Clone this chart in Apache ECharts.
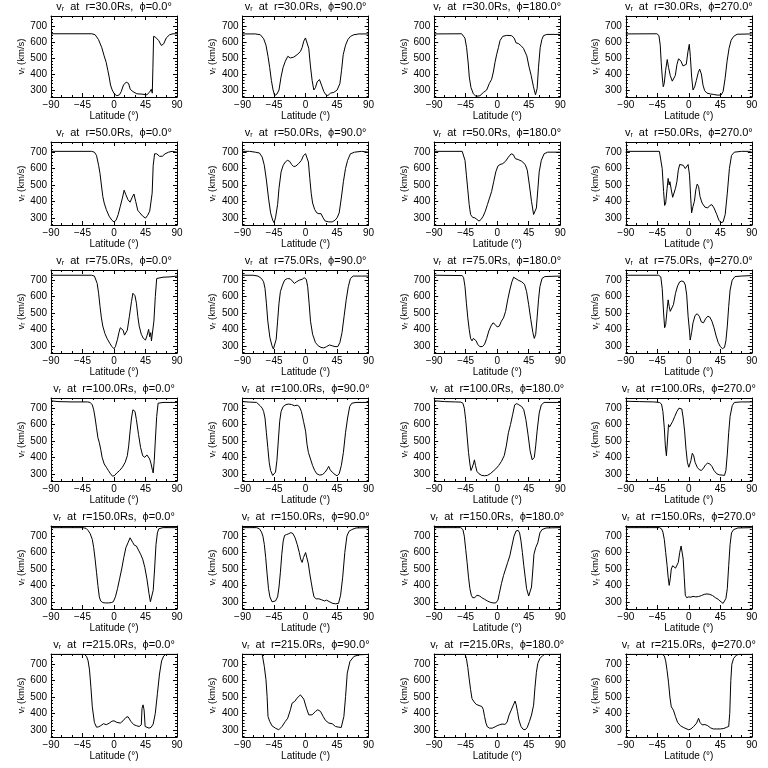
<!DOCTYPE html>
<html><head><meta charset="utf-8">
<script src="https://cdn.jsdelivr.net/npm/echarts@6/dist/echarts.min.js"></script>
<style>html,body{margin:0;padding:0;background:#fff}#c{width:768px;height:768px}</style>
</head><body><div id="c"></div>
<script>
// ---------- data (latitude [deg], v_r [km/s]) ----------
const radii = ['30.0', '50.0', '75.0', '100.0', '150.0', '215.0'];
const phis = ['0.0', '90.0', '180.0', '270.0'];
const xTicks = [-90, -45, 0, 45, 90];
const yTicks = [300, 400, 500, 600, 700];
const yMinorTicks = [260,280,300,320,340,360,380,400,420,440,460,480,500,520,540,560,580,600,620,640,660,680,700,720,740,760];

const r30_p0 = [[-90,651],[-31.7,651],[-27,645],[-22.2,615],[-17.4,564],[-14.1,513],[-11.2,473],[-8.8,422],[-6.9,381],[-5,331],[-2.6,300],[0.3,276],[4.1,264],[7.9,270],[10.3,290],[13.6,331],[17.4,349],[19.8,355],[20.8,341],[23.2,304],[27,290],[32.7,276],[39.9,274],[47,270],[50.4,284],[53.3,304],[54.7,280],[55.6,442],[56.6,635],[59.5,629],[63.8,609],[67.6,578],[71,588],[74.7,625],[79.5,645],[84.3,651],[90,651]];
const r30_p90 = [[-90,650],[-71.9,650],[-64.7,645],[-59.9,620],[-56.6,580],[-53.7,510],[-51.3,440],[-48.9,360],[-46.5,300],[-44.2,265],[-40.8,275],[-38,300],[-35.1,380],[-32.2,440],[-28.9,480],[-25.5,510],[-21.7,500],[-17,505],[-12.2,520],[-7.4,540],[-5,565],[-2.6,605],[-0.2,625],[2.2,615],[4.5,560],[6.9,450],[9.3,360],[11.7,300],[14.1,315],[16.5,350],[19.8,365],[21.7,370],[23.6,320],[26,290],[28.9,270],[31.8,265],[35.6,280],[40.4,285],[45.1,300],[49,340],[51.3,420],[53.7,520],[57.1,580],[60.4,615],[64.2,635],[69,645],[76.2,650],[90,650]];
const r30_p180 = [[-90,650],[-50.8,651],[-46.1,624],[-43.7,564],[-41.3,462],[-39.9,381],[-37.5,316],[-34.1,276],[-30.3,260],[-24.6,264],[-19.8,284],[-15,300],[-11.2,341],[-7.9,367],[-5.5,412],[-3.1,473],[-0.7,523],[1.7,564],[4.1,609],[7.9,635],[13.6,641],[20.8,639],[24.1,625],[27,594],[30.3,590],[33.7,578],[37.5,560],[42.3,513],[45.6,442],[48.5,391],[51.8,320],[54.7,270],[57.1,310],[59,442],[61.4,564],[63.8,615],[66.1,639],[70.9,647],[90,647]];
const r30_p270 = [[-90,650],[-45.6,651],[-42.7,640],[-40.8,580],[-39.4,470],[-37.9,380],[-36.5,320],[-35.1,340],[-33.2,420],[-30.8,490],[-28.9,440],[-26.5,390],[-23.6,355],[-21.7,345],[-19.3,390],[-16.9,460],[-14.6,495],[-11.2,480],[-8.3,450],[-6,440],[-3.6,460],[-1.2,540],[0.7,585],[2.2,510],[4.1,380],[6,300],[8.4,320],[10.8,360],[13.6,410],[15.5,430],[17.9,400],[20.3,330],[22.7,295],[26,280],[30.8,275],[35.6,272],[40.4,268],[46.1,268],[49,290],[51.8,370],[54.7,480],[57.5,560],[60.4,610],[64.2,635],[69,648],[90,650]];

const r50_p0 = [[-90,705],[-32,705],[-28,700],[-25,680],[-22,620],[-20,570],[-18,500],[-16,430],[-14,390],[-11,350],[-7,310],[-3,285],[0,275],[3,285],[6,320],[9,370],[12,420],[14.5,468],[17,440],[20,410],[23,395],[26,425],[28.5,445],[31,400],[34,345],[37,330],[41,310],[45,298],[48,315],[51,340],[53,330],[54.5,450],[56,620],[58,690],[61,690],[65,675],[69,675],[73,690],[78,700],[83,705],[90,700]];
const r50_p90 = [[-90,705],[-80,705],[-72,700],[-66,695],[-62,670],[-59,620],[-56,530],[-53,420],[-50,330],[-47,285],[-45,270],[-43,300],[-40,380],[-38,480],[-35,580],[-32,620],[-29,640],[-26,650],[-23,645],[-20,625],[-17,612],[-14,615],[-10,630],[-6,650],[-3,680],[0,690],[2.5,685],[4,640],[6,540],[8,450],[10,390],[13,350],[16,330],[19,325],[22,325],[25,300],[28,280],[33,275],[38,275],[42,285],[45,300],[48,330],[51,420],[54,520],[57,600],[60,650],[64,690],[70,700],[80,705],[90,700]];
const r50_p180 = [[-90,705],[-50,705],[-48,695],[-46,650],[-44,560],[-42,470],[-40,380],[-38,320],[-35,302],[-32,300],[-29,290],[-26,280],[-23,290],[-20,310],[-17,340],[-14,380],[-11,420],[-8,460],[-5,520],[-2,580],[1,615],[4,625],[8,630],[12,645],[16,670],[20,690],[23,685],[26,660],[30,655],[35,645],[40,625],[43,590],[46,500],[49,400],[52,320],[54,310],[56,360],[58,470],[60,580],[63,650],[67,690],[72,700],[90,700]];
const r50_p270 = [[-90,705],[-42,705],[-40,695],[-38,600],[-36,460],[-34.5,375],[-33,390],[-31,480],[-29.5,540],[-28,500],[-27,520],[-25,470],[-23,425],[-21,430],[-19,480],[-17,520],[-15,590],[-13,625],[-11,630],[-8,620],[-5,600],[-3,610],[-1,625],[1,560],[2.5,440],[4,330],[6,370],[8,400],[10,470],[12,505],[14,490],[16,430],[19,390],[23,365],[27,360],[30,375],[33,380],[36,360],[40,320],[43,285],[46,270],[49,275],[52,320],[55,450],[58,600],[61,680],[65,700],[75,705],[85,705],[90,700]];

const r75_p0 = [[-90,730],[-32,730],[-28,725],[-26,715],[-24,680],[-22,620],[-20,540],[-18,470],[-16,420],[-13,375],[-10,345],[-6,315],[-3,295],[0,282],[2,295],[5,340],[7,380],[9,410],[11,415],[13,395],[15,365],[17,360],[19,395],[22,480],[25,570],[27,620],[28.5,625],[30,605],[32,560],[34,480],[36,420],[39,370],[42,345],[45,335],[47,360],[49.5,400],[51,355],[52.5,380],[53.5,330],[55,340],[57,450],[59,600],[61,710],[63,720],[70,718],[80,720],[90,725]];
const r75_p90 = [[-90,730],[-75,730],[-68,725],[-63,710],[-60,690],[-58,650],[-56,560],[-54,450],[-51,350],[-48,300],[-46,280],[-44,290],[-42,340],[-40,450],[-38,560],[-36,630],[-33,670],[-30,700],[-26,710],[-22,708],[-19,695],[-16,680],[-13,690],[-9,700],[-5,705],[-2,715],[1,705],[3,660],[5,560],[7,450],[10,370],[14,320],[18,300],[22,290],[26,287],[30,295],[34,305],[38,300],[42,295],[46,295],[49,320],[52,380],[55,480],[58,580],[61,660],[64,710],[68,725],[80,725],[90,725]];
const r75_p180 = [[-90,730],[-50,728],[-48,715],[-46,660],[-44,560],[-42,470],[-40,400],[-38,345],[-36,330],[-34,345],[-32,355],[-30,330],[-28,310],[-25,295],[-21,295],[-18,310],[-15,345],[-12,390],[-9,420],[-6,440],[-3,430],[0,415],[3,420],[6,450],[9,470],[12,510],[15,580],[18,640],[21,690],[23.5,718],[26,710],[30,700],[35,690],[39,675],[42,630],[45,550],[48,460],[51,380],[53,345],[55,370],[57,470],[59,580],[61,660],[64,710],[68,722],[90,725]];
const r75_p270 = [[-90,730],[-43,730],[-40,720],[-38,650],[-36,500],[-34.5,410],[-33,430],[-31,520],[-29.5,580],[-28,540],[-26.5,510],[-25,520],[-22,550],[-19,620],[-16,665],[-13,690],[-10,695],[-7,690],[-5,670],[-3,610],[-1,480],[1,390],[2,335],[4,380],[6,440],[9,485],[12,495],[15,480],[18,445],[21,440],[24,465],[27,480],[30,475],[33,450],[36,410],[39,360],[42,320],[45,295],[48,283],[51,290],[53,330],[55,420],[57,540],[59,640],[62,700],[66,722],[75,725],[90,728]];

const r100_p0 = [[-90,745],[-80,740],[-60,738],[-38,738],[-34,735],[-31,720],[-29,690],[-27,640],[-25,580],[-23,520],[-21,490],[-19,450],[-17,400],[-14,360],[-11,340],[-8,320],[-5,300],[-2,285],[1,290],[4,305],[8,320],[12,340],[16,370],[19,410],[21,470],[23,560],[25,640],[27,690],[28.5,692],[30,680],[32,630],[35,540],[38,460],[41,410],[44,400],[47,415],[49.5,425],[51,390],[53,360],[55,320],[56,305],[57.5,380],[59,500],[61,650],[63,730],[70,735],[90,735]];
const r100_p90 = [[-90,740],[-80,737],[-70,735],[-65,715],[-62,700],[-60,680],[-58,640],[-56,550],[-54,460],[-52,370],[-50,320],[-47,290],[-45,285],[-43,310],[-41,380],[-39,500],[-37,620],[-35,680],[-32,710],[-28,722],[-24,725],[-20,722],[-16,715],[-12,718],[-9,710],[-6,680],[-3,620],[0,560],[2,480],[4,430],[7,390],[10,350],[13,320],[16,300],[20,292],[24,295],[28,310],[31,330],[33,345],[35,325],[38,310],[42,295],[45,288],[48,300],[51,350],[54,430],[57,550],[60,640],[63,710],[66,730],[72,735],[90,735]];
const r100_p180 = [[-90,745],[-75,740],[-60,738],[-52,737],[-49,730],[-47,700],[-45,630],[-43,530],[-41,430],[-39,360],[-37.5,320],[-36,335],[-34,360],[-32.5,385],[-31,350],[-29,315],[-26,300],[-22,290],[-18,288],[-14,290],[-10,300],[-6,315],[-2,330],[2,350],[6,375],[10,410],[13,470],[16,550],[19,600],[22,660],[25,720],[28,728],[31,720],[35,710],[38,690],[41,630],[44,540],[47,440],[50,385],[51.5,375],[53,400],[55,470],[57,560],[60,670],[63,720],[67,735],[90,735]];
const r100_p270 = [[-90,742],[-70,740],[-50,738],[-42,735],[-39,725],[-37,680],[-35,580],[-33.5,470],[-32,410],[-30.5,500],[-29,600],[-27.5,585],[-26,590],[-23,620],[-20,650],[-17,680],[-14,700],[-12,705],[-10,695],[-8,640],[-6,560],[-4,450],[-2,370],[0,340],[1.5,335],[3,380],[5,425],[7,410],[9,370],[12,340],[15,325],[18,320],[21,335],[24,355],[27,365],[30,360],[33,345],[36,320],[40,300],[44,293],[48,292],[51,290],[53,320],[55,420],[57,550],[59,650],[62,715],[65,735],[75,738],[90,738]];

const r150_p0 = [[-90,752],[-45,752],[-40,748],[-37,735],[-34,715],[-31,680],[-29,630],[-27,560],[-25,480],[-23,400],[-21,330],[-19,305],[-16,295],[-12,293],[-8,293],[-4,295],[-1,300],[2,330],[5,380],[8,440],[11,500],[14,570],[17,630],[20,660],[23,690],[25,680],[27,660],[29,645],[32,640],[35,615],[38,590],[41,560],[44,510],[47,440],[50,350],[52,300],[54,305],[56,370],[58,500],[60,650],[62,720],[64,745],[70,752],[90,752]];
const r150_p90 = [[-90,752],[-70,752],[-66,745],[-63,725],[-61,700],[-59,650],[-57,570],[-55,470],[-53,380],[-51,330],[-48,300],[-46,290],[-43,305],[-40,330],[-38,390],[-36,480],[-34,590],[-32,670],[-30,705],[-27,710],[-24,715],[-21,722],[-18,715],[-15,690],[-12,650],[-9,600],[-7,560],[-5,540],[-3,570],[0,600],[2,590],[4,530],[6,470],[8,420],[10,370],[12,330],[15,318],[19,318],[23,312],[27,305],[30,310],[32,305],[35,298],[39,290],[43,288],[47,290],[50,340],[53,450],[56,600],[59,700],[62,730],[66,740],[72,750],[90,752]];
const r150_p180 = [[-90,752],[-52,752],[-49,740],[-47,700],[-45,620],[-43,540],[-41,450],[-39,380],[-37,340],[-35,325],[-32,325],[-29,340],[-27,345],[-25,335],[-22,325],[-18,315],[-14,305],[-10,297],[-6,293],[-2,293],[1,310],[3,350],[6,410],[9,460],[12,500],[15,540],[18,580],[21,640],[24,700],[27,732],[30,735],[32,720],[34,670],[36,600],[38,520],[40,450],[42,380],[45,335],[47,340],[49,390],[51,500],[52.5,590],[55,630],[58,660],[61,720],[64,740],[70,750],[90,752]];
const r150_p270 = [[-90,752],[-42,752],[-39,745],[-37,725],[-35,680],[-33,600],[-31,520],[-29.5,450],[-28,400],[-26.5,440],[-25,500],[-23,520],[-21,515],[-19,505],[-17,500],[-15,540],[-13,600],[-11,640],[-9.5,630],[-8,560],[-6.5,450],[-5,340],[-3,325],[0,330],[3,328],[6,333],[10,330],[14,332],[18,338],[22,345],[26,348],[30,345],[34,338],[38,325],[42,315],[46,300],[49,290],[51,295],[53,320],[55,380],[57,520],[59,650],[61,720],[64,740],[70,750],[90,752]];

const r215_p0 = [[-90,760],[-42,760],[-39,745],[-37,720],[-35,665],[-33,560],[-31,440],[-28,345],[-25,316],[-22,318],[-19,325],[-15,337],[-11,331],[-7,340],[-3,352],[0,355],[4,345],[9,341],[13,355],[17,375],[20,380],[24,352],[28,332],[32,325],[36,320],[39,330],[40,430],[41.5,452],[43,420],[44.5,320],[47,312],[50,310],[53,315],[56,335],[59,400],[62,520],[65,640],[68,720],[71,750],[74,760],[90,760]];
const r215_p90 = [[-90,760],[-62,760],[-59,686],[-56.6,605],[-55,503],[-53.7,381],[-51.3,351],[-47.9,324],[-43.2,310],[-38.4,300],[-33.7,320],[-28.9,351],[-25.5,371],[-21.7,422],[-19.3,462],[-15.5,473],[-12.2,493],[-7.4,513],[-6,519],[-2.6,487],[1.2,432],[4.5,391],[9.3,391],[14.1,412],[17.4,422],[21.3,412],[25.1,381],[28.4,357],[33.2,341],[38,337],[42.7,320],[47.5,316],[50.9,314],[54.7,381],[57.1,503],[59.5,645],[63.3,716],[69,747],[76.2,757],[90,760]];
const r215_p180 = [[-90,760],[-46,760],[-44,735],[-42,680],[-40,610],[-38,545],[-36,490],[-33,470],[-30,455],[-26,448],[-22,442],[-20,425],[-18,380],[-16,340],[-14,318],[-11,310],[-7,310],[-3,318],[0,325],[3,330],[7,335],[11,333],[14,345],[17,390],[20,420],[23,450],[25.5,475],[27,455],[29,410],[31,360],[34,320],[37,303],[40,300],[43,315],[46,350],[49,390],[52,450],[54,560],[56,650],[58,705],[61,735],[65,752],[68,760],[90,760]];
const r215_p270 = [[-90,760],[-38,760],[-35,750],[-33,720],[-31,660],[-29,590],[-27,500],[-25,440],[-22,420],[-19,380],[-16,345],[-12,325],[-8,315],[-4,307],[0,300],[3,305],[7,320],[11,340],[14,370],[16,345],[19,330],[23,332],[27,325],[31,312],[35,305],[40,305],[45,305],[50,308],[54,315],[57,320],[58.5,400],[60,600],[61.5,700],[64,735],[68,755],[72,760],[90,760]];

const panels = [
  [r30_p0, r30_p90, r30_p180, r30_p270],
  [r50_p0, r50_p90, r50_p180, r50_p270],
  [r75_p0, r75_p90, r75_p180, r75_p270],
  [r100_p0, r100_p90, r100_p180, r100_p270],
  [r150_p0, r150_p90, r150_p180, r150_p270],
  [r215_p0, r215_p90, r215_p180, r215_p270]
];

// ---------- layout ----------
const FONT = 'Liberation Sans';
const YMIN = 256, YMAX = 762;
const grids = [], xAxes = [], yAxes = [], series = [];
const blk = '#000';
const minus = v => String(v).replace('-', '\u2212');

panels.forEach((row, ri) => row.forEach((data, ci) => {
  const gi = grids.length;
  grids.push({left: 51 + ci * 191.6, top: 14 + ri * 128, width: 126, height: 83, containLabel: false});
  const xb = xAxes.length;
  const common = {gridIndex: gi, type: 'value', min: -90, max: 90, interval: 45,
    splitLine: {show: false},
    axisLine: {show: true, onZero: false, lineStyle: {color: blk, width: 1}},
    axisTick: {show: true, inside: true, length: 4, lineStyle: {color: blk, width: 1}},
    minorTick: {show: true, splitNumber: 3, length: 2, lineStyle: {color: blk, width: 1}}};
  xAxes.push(Object.assign({}, common, {position: 'bottom',
    axisLabel: {show: true, color: blk, fontSize: 10, fontFamily: FONT, margin: 3, formatter: minus},
    name: 'Latitude (\u00b0)', nameLocation: 'middle', nameGap: 14,
    nameTextStyle: {color: blk, fontSize: 10, fontFamily: FONT}}));
  xAxes.push(Object.assign({}, common, {position: 'top', axisLabel: {show: false},
    name: 'v{s|r}  at  r=' + radii[ri] + 'Rs,  \u03d5=' + phis[ci] + '\u00b0',
    nameLocation: 'middle', nameGap: 3,
    nameTextStyle: {color: blk, fontSize: 11, fontFamily: FONT, lineHeight: 12,
      rich: {s: {fontSize: 7, fontFamily: FONT, color: blk, lineHeight: 7, verticalAlign: 'bottom'}}}}));
  const yb = yAxes.length;
  const ycommon = {gridIndex: gi, type: 'value', min: YMIN, max: YMAX, splitLine: {show: false}};
  yAxes.push(Object.assign({}, ycommon, {position: 'left',
    axisLine: {show: true, onZero: false, lineStyle: {color: blk, width: 1}},
    axisTick: {show: true, inside: true, length: 4, customValues: yTicks, lineStyle: {color: blk}},
    axisLabel: {show: true, customValues: yTicks, color: blk, fontSize: 10, fontFamily: FONT, margin: 4},
    name: 'v{s|r} (km/s)', nameLocation: 'middle', nameGap: 20,
    nameTextStyle: {color: blk, fontSize: 9.5, fontFamily: FONT, lineHeight: 11,
      rich: {s: {fontSize: 6.5, fontFamily: FONT, color: blk, lineHeight: 6, verticalAlign: 'bottom'}}}}));
  yAxes.push(Object.assign({}, ycommon, {position: 'left', axisLine: {show: false, onZero: false}, axisLabel: {show: false},
    axisTick: {show: true, inside: true, length: 2, customValues: yMinorTicks, lineStyle: {color: blk}}}));
  yAxes.push(Object.assign({}, ycommon, {position: 'right',
    axisLine: {show: true, onZero: false, lineStyle: {color: blk, width: 1}}, axisLabel: {show: false},
    axisTick: {show: true, inside: true, length: 4, customValues: yTicks, lineStyle: {color: blk}}}));
  yAxes.push(Object.assign({}, ycommon, {position: 'right', axisLine: {show: false, onZero: false}, axisLabel: {show: false},
    axisTick: {show: true, inside: true, length: 2, customValues: yMinorTicks, lineStyle: {color: blk}}}));
  series.push({type: 'line', xAxisIndex: xb, yAxisIndex: yb, data: data, symbol: 'none', showSymbol: false,
    clip: true, lineStyle: {color: blk, width: 1}, silent: true});
}));

const chart = echarts.init(document.getElementById('c'), null, {renderer: 'canvas'});
chart.setOption({animation: false, backgroundColor: '#fff', grid: grids, xAxis: xAxes, yAxis: yAxes, series: series});
</script></body></html>
